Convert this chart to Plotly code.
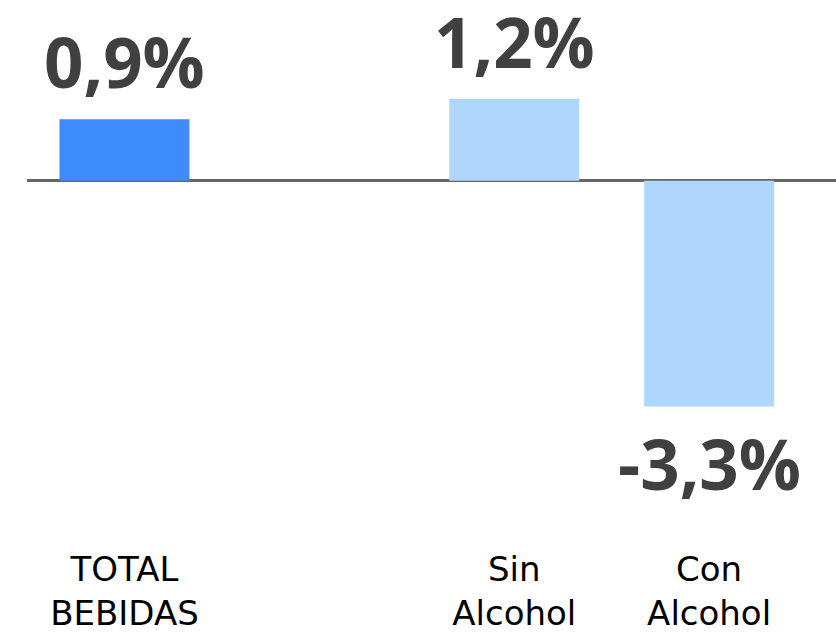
import plotly.graph_objects as go

categories = ["TOTAL<br>BEBIDAS", " ", "Sin<br>Alcohol", "Con<br>Alcohol"]
values = [0.9, None, 1.2, -3.3]
colors = ["#3d8bfd", "#ffffff", "#afd6fc", "#afd6fc"]

fig = go.Figure()
fig.add_trace(go.Bar(
    x=categories, y=values, marker=dict(color=colors, line=dict(width=0)),
    hoverinfo="skip", showlegend=False,
))

for c, v in zip(categories, values):
    if v is None:
        continue
    txt = f"{v:.1f}".replace(".", ",") + "%"
    fig.add_annotation(
        x=c, y=v, text=txt, showarrow=False,
        yanchor="bottom" if v >= 0 else "top",
        yshift=9 if v >= 0 else -8,
        font=dict(family="Open Sans", size=69, color="#404040", weight="bold"),
    )

fig.update_layout(
    width=836, height=633,
    margin=dict(l=27, r=0, t=2, b=82),
    paper_bgcolor="white", plot_bgcolor="white",
    bargap=1/3,
    xaxis=dict(
        type="category", categoryorder="array", categoryarray=categories,
        range=[-0.5, 3.651], showgrid=False, showline=False, ticks="",
        tickfont=dict(family="DejaVu Sans", size=34, color="#000000"),
    ),
    yaxis=dict(
        range=[-5.341, 2.616], showgrid=False, showticklabels=False,
        zeroline=True, zerolinecolor="#666666", zerolinewidth=3,
    ),
)

fig.write_html(
    "out.html",
    config={"displayModeBar": False, "staticPlot": True},
    post_script="document.body.style.margin='0';document.body.style.overflow='hidden';",
)
